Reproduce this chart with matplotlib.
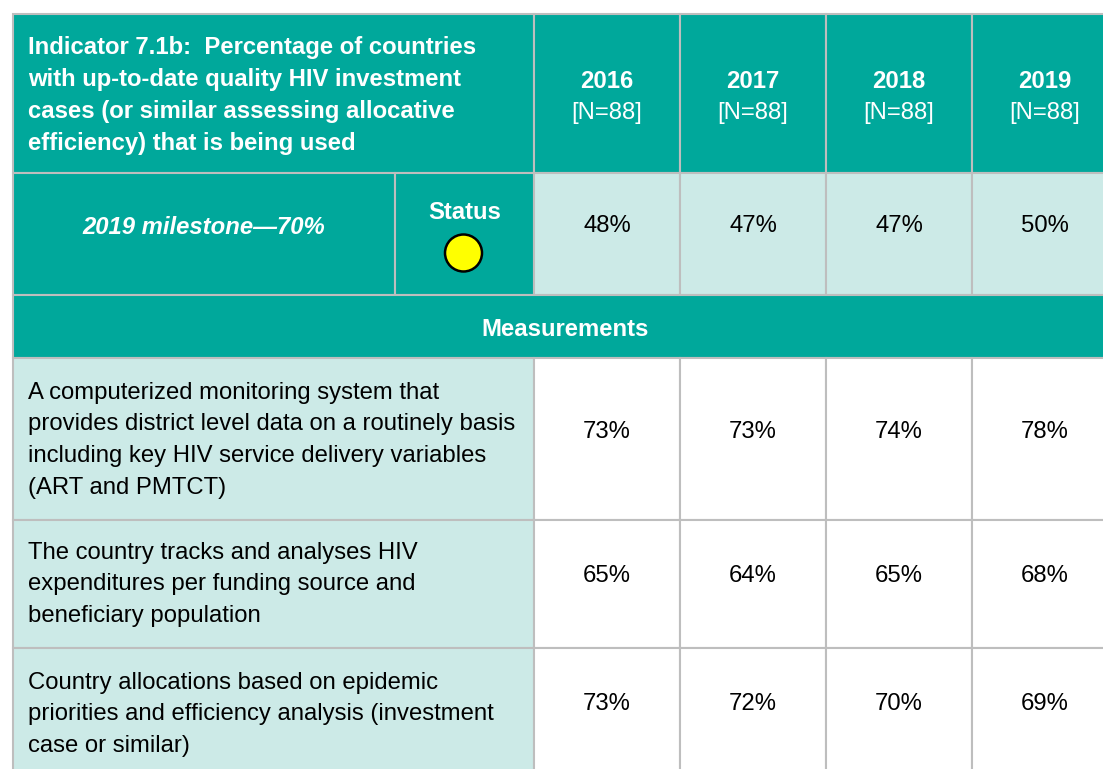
import matplotlib.pyplot as plt
from matplotlib.patches import Rectangle, Circle

plt.rcParams['font.family'] = ['Liberation Sans', 'DejaVu Sans']

# table content
title_lines = ["Indicator 7.1b:  Percentage of countries",
               "with up-to-date quality HIV investment",
               "cases (or similar assessing allocative",
               "efficiency) that is being used"]
years = ["2016", "2017", "2018", "2019"]
year_n = ["[N=88]", "[N=88]", "[N=88]", "[N=88]"]
milestone = "2019 milestone\u201470%"
indicator_values = ["48%", "47%", "47%", "50%"]
measure_labels = [
    ["A computerized monitoring system that",
     "provides district level data on a routinely basis",
     "including key HIV service delivery variables",
     "(ART and PMTCT)"],
    ["The country tracks and analyses HIV",
     "expenditures per funding source and",
     "beneficiary population"],
    ["Country allocations based on epidemic",
     "priorities and efficiency analysis (investment",
     "case or similar)"],
]
measure_values = [
    ["73%", "73%", "74%", "78%"],
    ["65%", "64%", "65%", "68%"],
    ["73%", "72%", "70%", "69%"],
]

TEAL = "#00A89B"
LIGHT = "#CCEAE7"
GRID = "#BEBEBE"
FS = 17.2
DY = 2.5  # small baseline nudge

# layout in pixels
x0, xs, xl = 13, 395, 534
colw = 146
row_edges = [14, 173, 295, 358, 520, 648, 800]
line_gap = 31.7

fig = plt.figure(figsize=(11.03, 7.69), dpi=100)
ax = fig.add_axes([0, 0, 1, 1])
ax.set_xlim(0, 1103)
ax.set_ylim(769, 0)
ax.axis('off')


def cell(x, y, w, h, color):
    ax.add_patch(Rectangle((x, y), w, h, facecolor=color, edgecolor=GRID, lw=1.5))


def txt(x, y, s, **kw):
    ax.text(x, y + DY, s, fontsize=FS, va='center', **kw)


xend = xl + colw * len(years)

# header row
y_top, y_bot = row_edges[0], row_edges[1]
cell(x0, y_top, xl - x0, y_bot - y_top, TEAL)
for i, line in enumerate(title_lines):
    txt(28, 45 + i * 32, line, color='white', fontweight='bold', ha='left')
for j, (yr, n) in enumerate(zip(years, year_n)):
    cx = xl + colw * j
    cell(cx, y_top, colw, y_bot - y_top, TEAL)
    txt(cx + colw / 2, 79, yr, color='white', fontweight='bold', ha='center')
    txt(cx + colw / 2, 110, n, color='white', ha='center')

# milestone row
y_top, y_bot = row_edges[1], row_edges[2]
cell(x0, y_top, xs - x0, y_bot - y_top, TEAL)
cell(xs, y_top, xl - xs, y_bot - y_top, TEAL)
txt((x0 + xs) / 2, 225, milestone, color='white', fontweight='bold',
    fontstyle='italic', ha='center')
txt((xs + xl) / 2, 210, "Status", color='white', fontweight='bold', ha='center')
ax.add_patch(Circle(((xs + xl) / 2 - 1, 253), 18.5, facecolor='#FFFF00', edgecolor='black',
                    lw=1.8, zorder=3))
for j, v in enumerate(indicator_values):
    cx = xl + colw * j
    cell(cx, y_top, colw, y_bot - y_top, LIGHT)
    txt(cx + colw / 2, 224, v, color='black', ha='center')

# measurements banner
y_top, y_bot = row_edges[2], row_edges[3]
cell(x0, y_top, xend - x0, y_bot - y_top, TEAL)
txt((x0 + xend) / 2, 327, "Measurements", color='white', fontweight='bold', ha='center')

# measurement rows
first_line = [390, 550, 680]
value_y = [430, 574, 702]
for r, (labels, vals) in enumerate(zip(measure_labels, measure_values)):
    y_top, y_bot = row_edges[3 + r], row_edges[4 + r]
    cell(x0, y_top, xl - x0, y_bot - y_top, LIGHT)
    for i, line in enumerate(labels):
        txt(28, first_line[r] + i * line_gap, line, color='black', ha='left')
    for j, v in enumerate(vals):
        cx = xl + colw * j
        cell(cx, y_top, colw, y_bot - y_top, 'white')
        txt(cx + colw / 2, value_y[r], v, color='black', ha='center')

fig.savefig("out.png", dpi=100, facecolor='white')
